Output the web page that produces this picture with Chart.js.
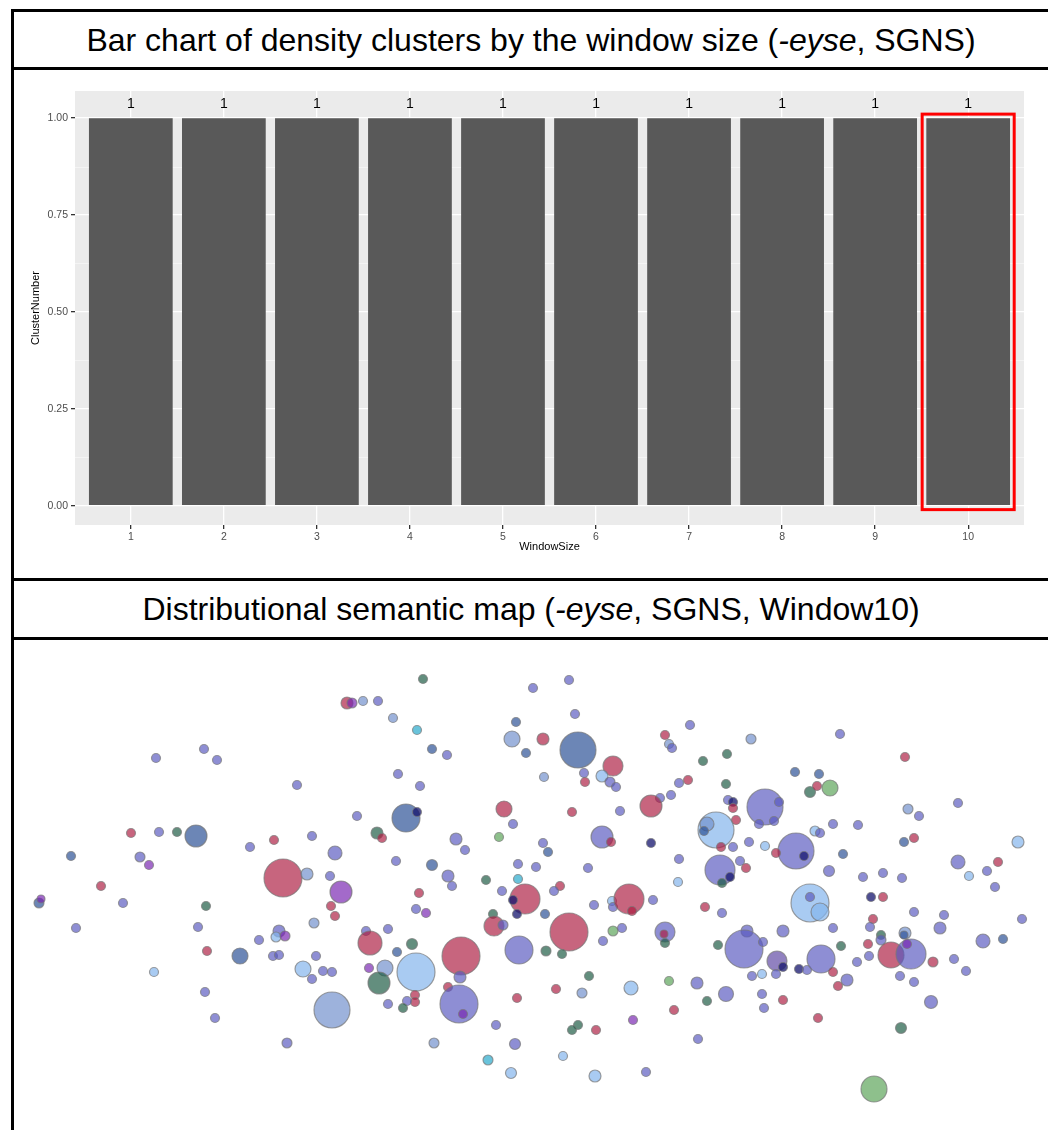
<!DOCTYPE html>
<html>
<head>
<meta charset="utf-8">
<script src="https://cdn.jsdelivr.net/npm/chart.js@4.4.1/dist/chart.umd.min.js"></script>
<style>
  html, body { margin: 0; padding: 0; background: #fff; }
  body { width: 1048px; height: 1130px; position: relative; overflow: hidden;
         font-family: "Liberation Sans", Arial, sans-serif; }
  .rule { position: absolute; background: #000; }
  .title { position: absolute; left: 14px; width: 1034px; text-align: center;
           font-size: 32px; color: #000; white-space: nowrap; }
  .title i { font-style: italic; }
  .panel { position: absolute; left: 14px; width: 1034px; }
  .clip { position: absolute; left: 14px; top: 640px; width: 1034px; height: 490px; overflow: hidden; }
  .mapbox { position: absolute; left: -30px; top: -30px; width: 1094px; height: 550px; }
</style>
</head>
<body>

<!-- frame rules -->
<div class="rule" style="left:11px; top:9px; width:1037px; height:3px;"></div>
<div class="rule" style="left:11px; top:9px; width:3px; height:1121px;"></div>
<div class="rule" style="left:11px; top:67px; width:1037px; height:3px;"></div>
<div class="rule" style="left:11px; top:578px; width:1037px; height:3px;"></div>
<div class="rule" style="left:11px; top:637px; width:1037px; height:3px;"></div>

<div class="title" style="top:13px; height:54px; line-height:54px;">Bar chart of density clusters by the window size (<i>-eyse</i>, SGNS)</div>
<div class="title" style="top:582px; height:54px; line-height:54px;">Distributional semantic map (<i>-eyse</i>, SGNS, Window10)</div>

<div class="panel" style="top:70px; height:508px;"><canvas id="bars"></canvas></div>
<div class="clip"><div class="mapbox"><canvas id="map"></canvas></div></div>

<script>
// ---- bar chart data ----
const windowSizes = [1, 2, 3, 4, 5, 6, 7, 8, 9, 10];
const clusterNumbers = [1, 1, 1, 1, 1, 1, 1, 1, 1, 1];
const yTickValues = [0, 0.25, 0.5, 0.75, 1.0];
const yMinorValues = [0.125, 0.375, 0.625, 0.875];
const highlightedWindow = 10;

// ---- semantic map data (two embedding dimensions, bubble size, cluster group) ----
const mapX = [347,352,156,204,217,297,131,159,177,196,71,140,149,250,274,312,335,283,307,330,341,101,39,41,123,76,206,331,335,314,198,207,240,259,279,276,285,273,279,316,303,323,332,312,154,332,205,215,287,
  423,569,533,363,378,393,417,575,516,512,543,526,578,432,447,613,584,602,585,610,616,544,398,420,665,669,672,690,679,688,671,660,651,504,572,620,406,417,357,513,377,382,499,456,465,602,611,651,543,548,396,432,518,536,588,679,448,452,486,518,560,678,
  751,840,727,703,905,726,795,819,810,817,830,765,779,759,774,728,733,733,736,716,707,704,721,733,749,765,796,804,776,815,820,833,858,843,908,919,958,904,914,1018,958,998,987,969,995,829,863,883,902,740,746,720,730,722,
  419,416,426,502,525,513,517,493,494,503,554,545,594,612,613,629,632,653,366,370,388,412,397,461,519,569,546,562,603,613,622,665,664,665,369,385,379,416,460,448,415,415,407,403,388,459,463,517,556,582,589,631,669,697,674,633,496,578,572,596,434,515,698,488,563,511,595,646,
  810,810,820,705,722,871,883,914,944,1022,873,870,833,940,783,747,744,763,718,777,783,799,807,762,752,776,821,841,833,847,838,857,869,868,881,881,905,904,891,911,907,933,954,983,1003,966,900,914,931,901,726,707,762,764,783,818,874];
const mapY = [703,703,758,749,760,785,833,832,832,836,856,857,865,847,840,836,853,878,874,876,892,886,903,899,903,928,906,906,916,923,927,951,956,940,931,937,936,956,955,956,969,971,972,979,972,1010,992,1018,1043,
  679,680,688,701,701,718,730,714,722,739,739,753,750,749,755,766,773,776,782,782,787,777,774,786,735,744,748,725,783,780,795,798,806,809,812,811,818,812,816,824,833,838,837,839,850,837,842,843,843,852,861,865,864,867,868,859,876,886,880,879,886,882,
  739,734,754,761,757,784,772,774,792,786,788,807,802,824,821,800,802,808,820,830,824,831,847,847,842,846,851,856,853,831,833,824,825,854,809,816,803,842,838,842,862,862,871,876,887,871,877,873,878,861,868,870,877,883,
  893,909,913,891,899,900,914,914,926,925,891,914,905,901,907,899,911,900,931,943,929,944,952,956,950,932,951,954,941,931,928,932,934,943,968,968,983,972,977,987,995,1002,1001,1008,1004,1004,1014,998,989,993,976,988,981,983,1010,1020,1025,1025,1030,1030,1043,1044,1039,1060,1056,1073,1076,1072,
  903,897,912,907,913,897,897,912,915,919,919,927,928,928,931,931,949,942,945,961,967,969,970,974,976,974,959,946,972,980,986,962,956,944,935,940,933,935,955,954,944,962,959,941,939,971,976,982,1002,1028,994,1001,994,1008,1000,1018,1089];
const mapSize = [6,5,4.5,4.5,4.5,4.5,4.5,4.5,4.5,11,4.5,5,4.5,4.5,4.5,4.5,7,19,6,4.5,11,4.5,5,4,4.5,4.5,4.5,4.5,4.5,5,4.5,4.5,8,4.5,6,5,5,4.5,4.5,4.5,8,4.5,4.5,4.5,4.5,18,4.5,4.5,5,
  4.5,4.5,4.5,4.5,4.5,4.5,4.5,4.5,4.5,8,6,4.5,18,4.5,4.5,10,4.5,6,4.5,5,4.5,4.5,4.5,4.5,4.5,4.5,4.5,4.5,4.5,4.5,4.5,4.5,11,8,4.5,4.5,14,4.5,4.5,4.5,6,4.5,4.5,6,4.5,11,4.5,4.5,4.5,4.5,4.5,5.5,4.5,4.5,4.5,4.5,6,4.5,4.5,4.5,4.5,4.5,
  5,4.5,4.5,4.5,4.5,4.5,4.5,4.5,5.5,4.5,8,18,4.5,4.5,4.5,4.5,4.5,4.5,4.5,18,7,4.5,4.5,4.5,4.5,4.5,18,4.5,4.5,5,4.5,4.5,4.5,4.5,5,4.5,4.5,4.5,4.5,6,7,4.5,4.5,4.5,4.5,5.5,4.5,4.5,4.5,4.5,4.5,15,4.5,4.5,
  4.5,4.5,4.5,4.5,15,4.5,4.5,4.5,10,5,4.5,4.5,4.5,4.5,4.5,15,4.5,4.5,4.5,12,4.5,5.5,4.5,19,14,19,5,4.5,4.5,5,4.5,10,4,4.5,4.5,8,11,19,6,4.5,4.5,4.5,4.5,4.5,4.5,19,4.5,4.5,4.5,5,4.5,7,4.5,6,4.5,4.5,4.5,4.5,4.5,4.5,5,5.5,4.5,5,4.5,5.5,6,4.5,
  19,4.5,9,4.5,4.5,4.5,4.5,4.5,4.5,4.5,4.5,4.5,4.5,6,6,6,19,4.5,4.5,10,4.5,4.5,4.5,4.5,4.5,4.5,14,4.5,4.5,6,4.5,4.5,4.5,4.5,4.5,5,6,4,13,15,4.5,5,4.5,7,4.5,4.5,4.5,4.5,6.5,5.5,7.5,4.5,4.5,4.5,4.5,4.5,13];
const mapGroup = ['R','V','P','P','P','P','R','P','T','S','S','P','V','P','R','P','P','R','B','P','V','R','S','V','P','P','T','R','R','B','P','R','S','P','P','L','V','P','P','P','L','P','P','P','L','B','P','P','P',
  'T','P','P','B','P','B','C','P','S','B','R','S','S','S','P','R','P','L','R','P','P','B','P','P','R','B','P','P','P','R','P','P','R','R','R','P','S','N','P','P','T','R','G','P','P','P','R','N','P','S','P','S','P','P','P','P','P','P','T','C','R','L',
  'B','P','T','T','R','T','S','S','T','R','G','P','P','P','P','P','N','R','R','L','B','S','R','P','P','L','P','N','R','L','P','P','P','S','B','P','P','S','R','L','P','R','P','L','P','P','P','P','P','P','R','P','N','T',
  'R','P','V','P','R','N','N','T','R','P','P','S','P','L','P','R','R','P','P','R','P','T','S','R','P','R','T','T','P','G','P','P','R','T','V','B','T','L','P','R','R','R','P','T','P','P','V','R','R','B','T','L','G','P','R','V','P','T','T','R','B','P','P','C','L','L','L','P',
  'L','P','L','R','P','N','R','P','P','P','R','P','P','P','P','P','P','P','T','M','N','N','P','L','P','P','P','T','R','P','R','P','P','R','T','P','B','S','R','P','V','R','P','P','S','P','P','P','P','T','P','T','P','P','R','R','G'];

// ---- styling ----
const groupFill = {
  P: 'rgba(89,89,192,0.68)',   // periwinkle
  S: 'rgba(45,82,151,0.70)',   // steel blue
  R: 'rgba(172,28,65,0.68)',   // rose
  L: 'rgba(132,181,236,0.70)', // light blue
  B: 'rgba(116,145,205,0.70)', // pale slate blue
  T: 'rgba(25,88,65,0.68)',    // teal green
  G: 'rgba(94,165,91,0.70)',   // green
  V: 'rgba(119,36,177,0.68)',  // violet
  C: 'rgba(42,169,204,0.70)',  // cyan
  N: 'rgba(20,20,110,0.75)',   // navy
  M: 'rgba(99,75,165,0.70)'    // mauve
};
const FONT = '"Liberation Sans", Arial, sans-serif';
// the map canvas is larger than its visible frame by this margin on every side,
// so the bubble overflow padding falls outside the frame
const MAP_MARGIN = 30;

// ---- plugins for the bar chart ----
const panelBackground = {
  id: 'panelBackground',
  beforeDraw(chart) {
    const { ctx, chartArea: a } = chart;
    ctx.save();
    ctx.fillStyle = '#EBEBEB';
    ctx.fillRect(a.left, a.top, a.right - a.left, a.bottom - a.top);
    // minor horizontal grid
    const ys = chart.scales.y;
    ctx.strokeStyle = 'rgba(255,255,255,0.75)';
    ctx.lineWidth = 0.6;
    yMinorValues.forEach(v => {
      const py = Math.round(ys.getPixelForValue(v)) + 0.5;
      ctx.beginPath(); ctx.moveTo(a.left, py); ctx.lineTo(a.right, py); ctx.stroke();
    });
    ctx.restore();
  }
};

const valueLabels = {
  id: 'valueLabels',
  afterDatasetsDraw(chart) {
    const { ctx } = chart;
    const meta = chart.getDatasetMeta(0);
    ctx.save();
    ctx.fillStyle = '#000';
    ctx.font = '14px ' + FONT;
    ctx.textAlign = 'center';
    ctx.textBaseline = 'middle';
    meta.data.forEach((bar, i) => {
      ctx.fillText(String(clusterNumbers[i]), bar.x, bar.y - 14);
    });
    ctx.restore();
  }
};

const highlightBox = {
  id: 'highlightBox',
  afterDatasetsDraw(chart) {
    const { ctx } = chart;
    const idx = windowSizes.indexOf(highlightedWindow);
    const bar = chart.getDatasetMeta(0).data[idx];
    const xs = chart.scales.x;
    const half = xs.getPixelForValue(1.5) - xs.getPixelForValue(1);
    const ys = chart.scales.y;
    const top = ys.getPixelForValue(clusterNumbers[idx]) - 4;
    const bottom = ys.getPixelForValue(0) + 4;
    ctx.save();
    ctx.strokeStyle = '#FF0000';
    ctx.lineWidth = 3;
    ctx.strokeRect(bar.x - half + 0.5, top, 2 * half - 1, bottom - top);
    ctx.restore();
  }
};

new Chart(document.getElementById('bars'), {
  type: 'bar',
  data: {
    datasets: [{
      data: windowSizes.map((w, i) => ({ x: w, y: clusterNumbers[i] })),
      backgroundColor: '#595959',
      borderWidth: 0,
      barPercentage: 0.9,
      categoryPercentage: 1.0
    }]
  },
  options: {
    responsive: true,
    maintainAspectRatio: false,
    animation: false,
    layout: { padding: { top: 21, right: 24, left: 0, bottom: 0 } },
    plugins: { legend: { display: false }, tooltip: { enabled: false } },
    scales: {
      x: {
        type: 'linear',
        offset: false,
        min: 0.4, max: 10.6,
        afterBuildTicks(s) { s.ticks = windowSizes.map(v => ({ value: v })); },
        afterFit(s) { s.height = 53; },
        border: { display: false },
        grid: { offset: false, color: '#FFFFFF', lineWidth: 1.3, tickColor: '#333333', tickLength: 4 },
        ticks: { color: '#4D4D4D', font: { family: FONT, size: 10.5 }, padding: 2, maxRotation: 0,
                 callback: v => String(v) },
        title: { display: true, text: 'WindowSize', color: '#000', font: { family: FONT, size: 11 },
                 padding: { top: 0, bottom: 24 } }
      },
      y: {
        type: 'linear',
        min: -0.05, max: 1.07,
        afterBuildTicks(s) { s.ticks = yTickValues.map(v => ({ value: v })); },
        afterFit(s) { s.width = 61; },
        border: { display: false },
        grid: { color: '#FFFFFF', lineWidth: 1.3, tickColor: '#333333', tickLength: 4 },
        ticks: { color: '#4D4D4D', font: { family: FONT, size: 10.5 }, padding: 3,
                 callback: v => v.toFixed(2) },
        title: { display: true, text: 'ClusterNumber', color: '#000', font: { family: FONT, size: 11 },
                 padding: { top: 15, bottom: 0 } }
      }
    }
  },
  plugins: [panelBackground, valueLabels, highlightBox]
});

// ---- distributional semantic map ----
const mapPoints = mapX.map((x, i) => ({ x: x, y: mapY[i], r: mapSize[i] }));

new Chart(document.getElementById('map'), {
  type: 'bubble',
  data: {
    datasets: [{
      data: mapPoints,
      backgroundColor: mapGroup.map(g => groupFill[g]),
      borderColor: 'rgba(120,120,120,0.7)',
      borderWidth: 1.2,
      clip: false
    }]
  },
  options: {
    responsive: true,
    maintainAspectRatio: false,
    animation: false,
    layout: { padding: MAP_MARGIN },
    plugins: { legend: { display: false }, tooltip: { enabled: false } },
    elements: { point: { hoverRadius: 0 } },
    scales: {
      x: { type: 'linear', display: false, min: 14, max: 1048 },
      y: { type: 'linear', display: false, min: 640, max: 1130, reverse: true }
    }
  }
});
</script>
</body>
</html>
